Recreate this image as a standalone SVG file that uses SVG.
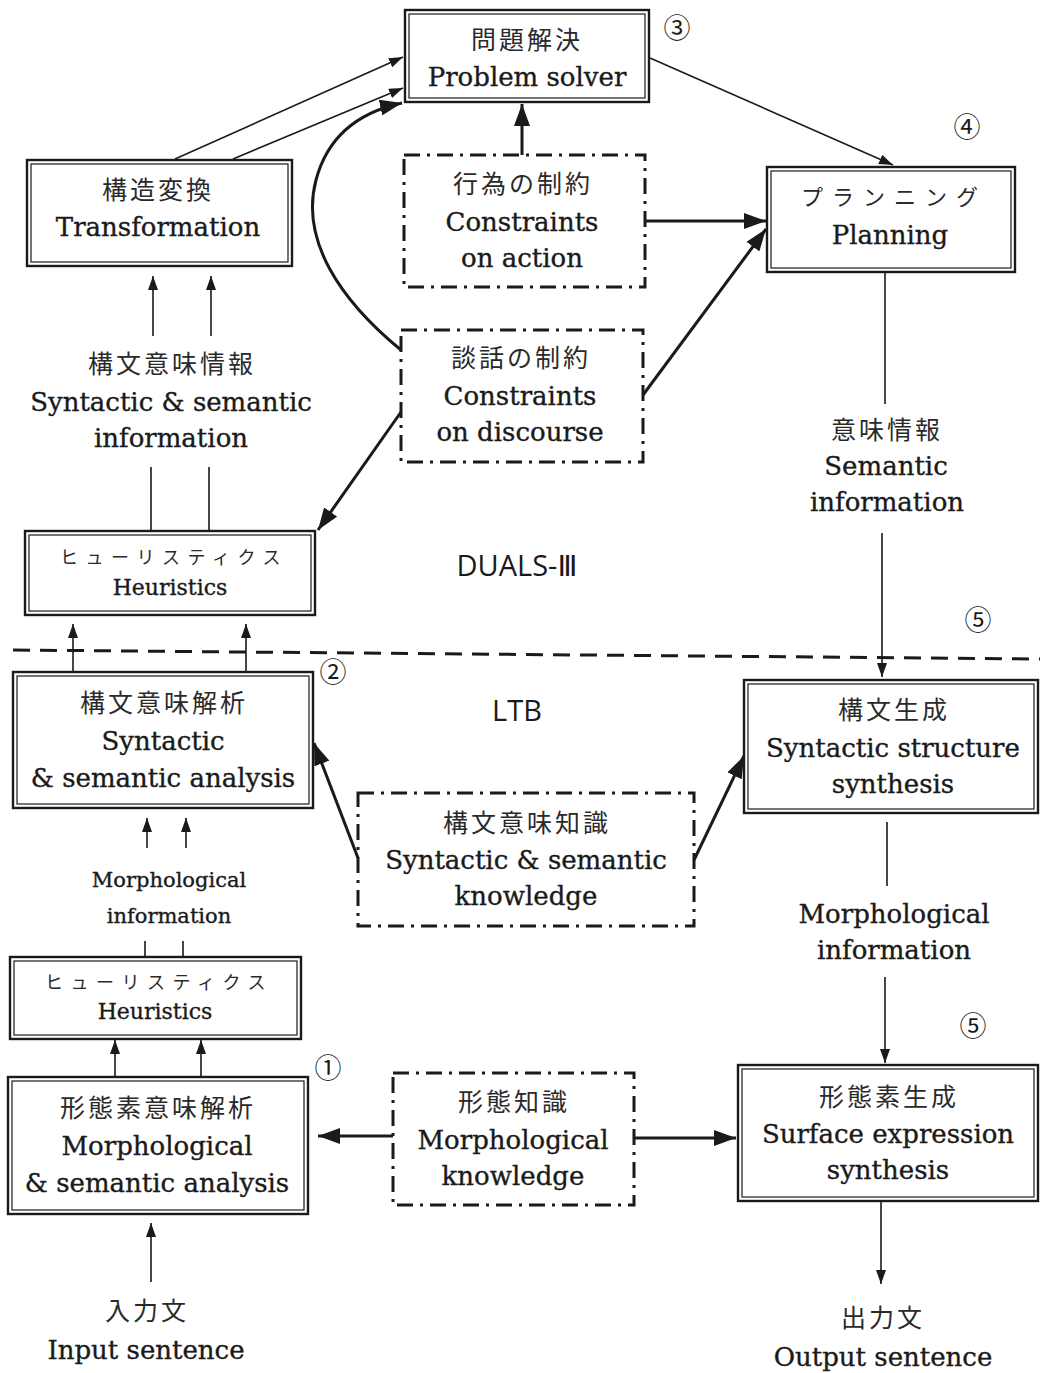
<svg xmlns="http://www.w3.org/2000/svg" width="1040" height="1373" viewBox="0 0 1040 1373">
<defs>
<style>
.o{fill:none;stroke:#1a1a1a;stroke-width:2.4}
.i{fill:none;stroke:#1a1a1a;stroke-width:1.2}
.dd{fill:none;stroke:#1a1a1a;stroke-width:3;stroke-dasharray:16 7 3 7}
.en{font-family:"DejaVu Serif","Liberation Serif",serif;font-size:26px;fill:#1a1a1a;stroke:#1a1a1a;stroke-width:0.35;text-anchor:middle}
.sm{font-size:21px}
.he{font-size:22px}
.jp{font-family:"Noto Sans CJK JP","Noto Sans CJK SC",sans-serif;font-size:25px;fill:#2a2a2a;text-anchor:middle;letter-spacing:3px}
.ka{font-size:18px;letter-spacing:7.5px}
.pl{font-size:22px;letter-spacing:9px}
.num{font-family:"Noto Sans CJK JP","DejaVu Sans",sans-serif;font-size:27px;fill:#1a1a1a;text-anchor:middle}
.sys{font-family:"Open Sans","DejaVu Sans","Noto Sans CJK JP",sans-serif;font-size:29px;fill:#1a1a1a;text-anchor:middle}
.t{fill:none;stroke:#1a1a1a;stroke-width:1.6}
.b{fill:none;stroke:#1a1a1a;stroke-width:3}
.at{marker-end:url(#ah)}
.ab{marker-end:url(#ahb)}
</style>
<marker id="ah" viewBox="0 0 14 10" refX="14" refY="5" markerWidth="14" markerHeight="10" markerUnits="userSpaceOnUse" orient="auto"><path d="M0,0 L14,5 L0,10 Z" fill="#1a1a1a"/></marker>
<marker id="ahb" viewBox="0 0 22 16" refX="22" refY="8" markerWidth="22" markerHeight="16" markerUnits="userSpaceOnUse" orient="auto"><path d="M0,0 L22,8 L0,16 Z" fill="#1a1a1a"/></marker>
</defs>
<rect x="0" y="0" width="1040" height="1373" fill="#ffffff"/>

<g id="connectors">
<path class="t at" d="M175,159 L403,57"/>
<path class="t at" d="M233,159 L403,88"/>
<path class="t at" d="M650,58 L893,165"/>
<path class="t at" d="M153,336 L153,276"/>
<path class="t at" d="M211,336 L211,276"/>
<path class="t at" d="M73,672 L73,624"/>
<path class="t at" d="M246,672 L246,624"/>
<path class="t at" d="M147,848 L147,818"/>
<path class="t at" d="M186,848 L186,818"/>
<path class="t at" d="M115,1077 L115,1040"/>
<path class="t at" d="M201,1077 L201,1040"/>
<path class="t at" d="M151,1282 L151,1223"/>
<path class="t at" d="M882,533 L882,677"/>
<path class="t at" d="M885,977 L885,1063"/>
<path class="t at" d="M881,1201 L881,1284"/>
<path class="t" d="M885,272 L885,404"/>
<path class="t" d="M151,467 L151,531 M209,467 L209,531"/>
<path class="t" d="M145,941 L145,957 M183,941 L183,957"/>
<path class="t" d="M887,822 L887,886"/>
<path class="b ab" d="M522,155 L522,104"/>
<path class="b ab" d="M645,221 L766,221"/>
<path class="b ab" d="M643,395 L766,229"/>
<path class="b ab" d="M401,412 L318,530"/>
<path class="b ab" d="M401,350 C340,300 300,240 316,180 C328,135 360,112 402,103"/>
<path class="b ab" d="M358,858 L314,743"/>
<path class="b ab" d="M694,860 L744,756"/>
<path class="b ab" d="M393,1136 L318,1136"/>
<path class="b ab" d="M634,1138 L736,1138"/>
<path d="M13,650 L1040,659" fill="none" stroke="#1a1a1a" stroke-width="3" stroke-dasharray="17 10"/>
</g>

<g id="problem-solver">
<rect class="o" x="405" y="10" width="244" height="92"/>
<rect class="i" x="409" y="14" width="236" height="84"/>
<text class="jp" x="527" y="49">問題解決</text>
<text class="en" x="527" y="86">Problem solver</text>
</g>
<g id="transformation">
<rect class="o" x="27" y="160" width="265" height="106"/>
<rect class="i" x="31" y="164" width="257" height="98"/>
<text class="jp" x="158" y="199">構造変換</text>
<text class="en" x="158" y="236">Transformation</text>
</g>
<g id="planning">
<rect class="o" x="767" y="167" width="248" height="105"/>
<rect class="i" x="771" y="171" width="240" height="97"/>
<text class="jp pl" x="894" y="205">プランニング</text>
<text class="en" x="890" y="244">Planning</text>
</g>
<g id="constraints-action">
<rect class="dd" x="404" y="155" width="241" height="132"/>
<text class="jp" x="523" y="193">行為の制約</text>
<text class="en" x="522" y="231">Constraints</text>
<text class="en" x="522" y="267">on action</text>
</g>
<g id="constraints-discourse">
<rect class="dd" x="401" y="330" width="242" height="132"/>
<text class="jp" x="521" y="367">談話の制約</text>
<text class="en" x="520" y="405">Constraints</text>
<text class="en" x="520" y="441">on discourse</text>
</g>
<g id="syn-sem-info">
<text class="jp" x="172" y="373">構文意味情報</text>
<text class="en" x="171" y="411">Syntactic &amp; semantic</text>
<text class="en" x="171" y="447">information</text>
</g>
<g id="semantic-info">
<text class="jp" x="887" y="439">意味情報</text>
<text class="en" x="886" y="475">Semantic</text>
<text class="en" x="887" y="511">information</text>
</g>
<g id="heuristics-upper">
<rect class="o" x="25" y="531" width="290" height="84"/>
<rect class="i" x="29" y="535" width="282" height="76"/>
<text class="jp ka" x="174" y="564">ヒューリスティクス</text>
<text class="en he" x="170" y="595">Heuristics</text>
</g>
<g id="labels">
<text class="sys" x="517" y="576">DUALS-Ⅲ</text>
<text class="sys" x="517" y="721">LTB</text>
<text class="num" x="677" y="38">③</text>
<text class="num" x="967" y="137">④</text>
<text class="num" x="978" y="630">⑤</text>
<text class="num" x="333" y="682">②</text>
<text class="num" x="973" y="1036">⑤</text>
<text class="num" x="328" y="1078">①</text>
</g>
<g id="syn-sem-analysis">
<rect class="o" x="13" y="672" width="300" height="136"/>
<rect class="i" x="17" y="676" width="292" height="128"/>
<text class="jp" x="164" y="712">構文意味解析</text>
<text class="en" x="163" y="750">Syntactic</text>
<text class="en" x="163" y="787">&amp; semantic analysis</text>
</g>
<g id="syn-synthesis">
<rect class="o" x="744" y="680" width="294" height="133"/>
<rect class="i" x="748" y="684" width="286" height="125"/>
<text class="jp" x="894" y="719">構文生成</text>
<text class="en" x="893" y="757">Syntactic structure</text>
<text class="en" x="893" y="793">synthesis</text>
</g>
<g id="syn-sem-knowledge">
<rect class="dd" x="358" y="793" width="336" height="133"/>
<text class="jp" x="527" y="832">構文意味知識</text>
<text class="en" x="526" y="869">Syntactic &amp; semantic</text>
<text class="en" x="526" y="905">knowledge</text>
</g>
<g id="morph-info-left">
<text class="en sm" x="169" y="887">Morphological</text>
<text class="en sm" x="169" y="923">information</text>
</g>
<g id="morph-info-right">
<text class="en" x="894" y="923">Morphological</text>
<text class="en" x="894" y="959">information</text>
</g>
<g id="heuristics-lower">
<rect class="o" x="10" y="957" width="291" height="82"/>
<rect class="i" x="14" y="961" width="283" height="74"/>
<text class="jp ka" x="159" y="989">ヒューリスティクス</text>
<text class="en he" x="155" y="1019">Heuristics</text>
</g>
<g id="morph-analysis">
<rect class="o" x="8" y="1077" width="300" height="137"/>
<rect class="i" x="12" y="1081" width="292" height="129"/>
<text class="jp" x="158" y="1117">形態素意味解析</text>
<text class="en" x="157" y="1155">Morphological</text>
<text class="en" x="157" y="1192">&amp; semantic analysis</text>
</g>
<g id="morph-knowledge">
<rect class="dd" x="393" y="1073" width="241" height="132"/>
<text class="jp" x="514" y="1111">形態知識</text>
<text class="en" x="513" y="1149">Morphological</text>
<text class="en" x="513" y="1185">knowledge</text>
</g>
<g id="surface-synthesis">
<rect class="o" x="738" y="1065" width="300" height="136"/>
<rect class="i" x="742" y="1069" width="292" height="128"/>
<text class="jp" x="889" y="1106">形態素生成</text>
<text class="en" x="888" y="1143">Surface expression</text>
<text class="en" x="888" y="1179">synthesis</text>
</g>
<g id="input">
<text class="jp" x="147" y="1320">入力文</text>
<text class="en" x="146" y="1359">Input sentence</text>
</g>
<g id="output">
<text class="jp" x="883" y="1327">出力文</text>
<text class="en" x="883" y="1366">Output sentence</text>
</g>
</svg>
